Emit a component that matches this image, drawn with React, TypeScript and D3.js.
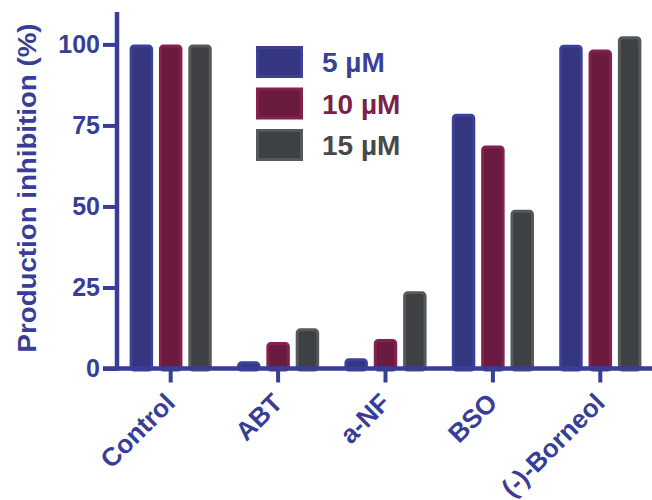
import React, { useEffect, useRef } from 'react';
import * as d3 from 'd3';

const categories = ['Control', 'ABT', 'a-NF', 'BSO', '(-)-Borneol'];
const seriesNames = ['5 µM', '10 µM', '15 µM'];
const values5 = [100, 2.2, 3.2, 78.6, 99.9];
const values10 = [100, 8.2, 9.1, 68.8, 98.4];
const values15 = [100, 12.4, 23.8, 49.0, 102.5];
const yTicks = [0, 25, 50, 75, 100];

const fills = ['#34377f', '#6b1a40', '#3e4043'];
const strokes = ['#3b409a', '#84214f', '#56595a'];
const textColors = ['#3a3f98', '#7d1f4b', '#47494b'];
const axisColor = '#383e96';

const App = () => {
  const svgRef = useRef(null);

  useEffect(() => {
    const width = 652;
    const svg = d3.select(svgRef.current);
    svg.selectAll('*').remove();

    const series = [values5, values10, values15];

    const x = d3.scaleBand().domain(categories).range([117, 654]).paddingInner(0.235).paddingOuter(0.1175);
    const xInner = d3.scaleBand().domain(d3.range(3)).range([0, x.bandwidth()]).paddingInner(0.2);
    const y = d3.scaleLinear().domain([0, 110]).range([368.5, 12]);

    const font = 'Liberation Sans, Arial, sans-serif';

    // bars
    const groups = svg.append('g')
      .selectAll('g')
      .data(categories)
      .join('g')
      .attr('transform', (d) => `translate(${x(d)},0)`);

    groups.selectAll('rect')
      .data((d, i) => series.map((s, k) => ({ k, v: s[i] })))
      .join('rect')
      .attr('x', (d) => xInner(d.k) + 1.5)
      .attr('width', xInner.bandwidth() - 3)
      .attr('y', (d) => y(d.v) + 1.5)
      .attr('height', (d) => Math.max(0, y(0) - y(d.v)))
      .attr('rx', 3)
      .attr('fill', (d) => fills[d.k])
      .attr('stroke', (d) => strokes[d.k])
      .attr('stroke-width', 3);

    // y axis
    const yAxis = svg.append('g')
      .attr('transform', 'translate(117,0)')
      .call(d3.axisLeft(y).tickValues(yTicks).tickSize(14).tickPadding(3));
    yAxis.select('.domain').remove();
    yAxis.selectAll('line').attr('stroke', axisColor).attr('stroke-width', 4);
    yAxis.selectAll('text')
      .attr('fill', axisColor)
      .style('font', `bold 25px ${font}`);
    svg.append('line')
      .attr('x1', 117).attr('x2', 117)
      .attr('y1', y(110)).attr('y2', y(0) + 2)
      .attr('stroke', axisColor).attr('stroke-width', 4.5);

    // x axis
    svg.append('line')
      .attr('x1', 103).attr('x2', width)
      .attr('y1', y(0)).attr('y2', y(0))
      .attr('stroke', axisColor).attr('stroke-width', 4.5);

    const xTicks = svg.append('g')
      .selectAll('g')
      .data(categories)
      .join('g')
      .attr('transform', (d) => `translate(${x(d) + x.bandwidth() / 2},${y(0)})`);
    xTicks.append('line')
      .attr('y1', 0).attr('y2', 14)
      .attr('stroke', axisColor).attr('stroke-width', 4);
    xTicks.append('text')
      .attr('transform', 'translate(6,36) rotate(-45)')
      .attr('text-anchor', 'end')
      .attr('fill', axisColor)
      .style('font', `bold 26px ${font}`)
      .text((d) => d);

    // y label
    svg.append('text')
      .attr('transform', 'translate(36,188) rotate(-90)')
      .attr('text-anchor', 'middle')
      .attr('fill', axisColor)
      .style('font', `bold 26px ${font}`)
      .attr('textLength', 329)
      .attr('lengthAdjust', 'spacingAndGlyphs')
      .text('Production inhibition (%)');

    // legend
    const legend = svg.append('g')
      .selectAll('g')
      .data(seriesNames)
      .join('g')
      .attr('transform', (d, i) => `translate(256,${46 + i * 41.5})`);
    legend.append('rect')
      .attr('x', 1.5).attr('y', 1.5)
      .attr('width', 44).attr('height', 29)
      .attr('fill', (d, i) => fills[i])
      .attr('stroke', (d, i) => strokes[i])
      .attr('stroke-width', 3);
    legend.append('text')
      .attr('x', 66).attr('y', 26)
      .attr('fill', (d, i) => textColors[i])
      .style('font', `bold 28px ${font}`)
      .text((d) => d);
  }, []);

  return (
    <svg ref={svgRef} width={652} height={500} style={{ position: 'absolute', left: 0, top: 0, background: '#fff' }} />
  );
};

export default App;
